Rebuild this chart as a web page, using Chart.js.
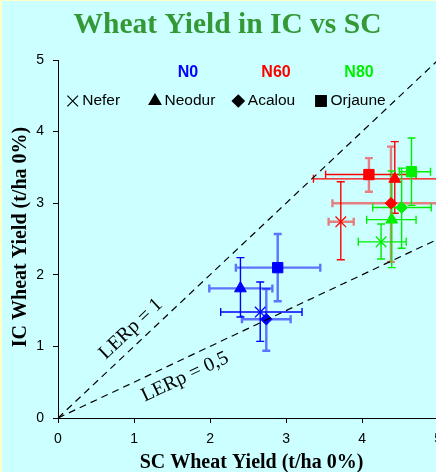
<!DOCTYPE html>
<html>
<head>
<meta charset="utf-8">
<script src="https://cdn.jsdelivr.net/npm/chart.js@4.4.1/dist/chart.umd.min.js"></script>
<style>
  html, body { margin: 0; padding: 0; overflow: hidden; background: #ffffcc; }
  canvas { display: block; }
</style>
</head>
<body>
<canvas id="chart" width="450" height="472"></canvas>
<script>
const varieties = ['Nefer', 'Neodur', 'Acalou', 'Orjaune'];
const levels = ['N0', 'N60', 'N80'];
const axisTicks = [0, 1, 2, 3, 4, 5];

// SC yield (x) and IC yield (y), one value per variety
const scN0 = [2.66, 2.40, 2.74, 2.89];
const icN0 = [1.48, 1.81, 1.38, 2.10];
const scN60 = [3.72, 4.43, 4.38, 4.09];
const icN60 = [2.74, 3.34, 3.00, 3.40];
const scN80 = [4.25, 4.39, 4.52, 4.65];
const icN80 = [2.46, 2.77, 2.94, 3.44];

// error bar ends [low, high]
const scErrN0 = [[2.14, 3.21], [1.99, 2.82], [2.42, 3.06], [2.34, 3.45]];
const icErrN0 = [[1.07, 1.90], [1.41, 2.24], [0.94, 1.80], [1.63, 2.57]];
const scErrN60 = [[3.56, 3.89], [3.36, 5.40], [3.61, 5.40], [3.52, 4.71]];
const icErrN60 = [[2.21, 3.30], [2.86, 3.86], [2.18, 3.79], [3.16, 3.63]];
const scErrN80 = [[3.95, 4.58], [4.06, 4.71], [4.14, 4.91], [4.49, 4.90]];
const icErrN80 = [[2.22, 2.71], [2.10, 3.45], [2.37, 3.49], [2.97, 3.91]];

// LERp reference lines
const lerX = [0, 5];
const ler1Y = [0, 5];
const ler05Y = [0, 2.5];

const shapes = ['crossRot', 'triangle', 'rectRot', 'rect'];
const sizes = [7.5, 6.8, 5.8, 7.3];

function pts(xs, ys){
  return xs.map((x, i) => ({ x, y: ys[i] }));
}

function group(label, color, xs, ys, xErr, yErr, softH, softV){
  return {
    label,
    data: pts(xs, ys),
    xErr, yErr, softH, softV,
    backgroundColor: color,
    borderColor: color,
    pointStyle: shapes,
    pointRadius: sizes,
    pointBorderWidth: [1.3, 1, 1, 1],
    showLine: false
  };
}

function lerLine(ys){
  return {
    data: pts(lerX, ys),
    showLine: true,
    borderColor: '#000',
    borderWidth: 1.2,
    borderDash: [7, 5],
    pointRadius: 0,
    isLine: true
  };
}

const bgPlugin = {
  id: 'bg',
  beforeDraw(chart){
    const ctx = chart.ctx;
    ctx.save();
    ctx.fillStyle = '#ffffcc';
    ctx.fillRect(0, 0, chart.width, chart.height);
    ctx.fillStyle = '#ccffff';
    ctx.fillRect(2, 1, chart.width, chart.height);
    ctx.restore();
  }
};

function fade(color){
  const m = { '#0000ff': 'rgba(0,0,255,0.55)', '#ff0000': 'rgba(255,0,0,0.5)', '#00ee00': 'rgba(0,238,0,0.6)' };
  return m[color] || color;
}

const errorPlugin = {
  id: 'errbars',
  beforeDatasetsDraw(chart){
    const { ctx, chartArea: a, scales: { x, y } } = chart;
    ctx.save();
    ctx.beginPath();
    ctx.rect(a.left, a.top, a.right - a.left, a.bottom - a.top);
    ctx.clip();
    chart.data.datasets.forEach(ds => {
      if(ds.isLine) return;
      ds.data.forEach((p, i) => {
        const px = x.getPixelForValue(p.x);
        const py = y.getPixelForValue(p.y);
        const [xl, xh] = ds.xErr[i];
        const [yl, yh] = ds.yErr[i];
        // horizontal bar
        ctx.strokeStyle = ds.softH[i] ? fade(ds.borderColor) : ds.borderColor;
        ctx.lineWidth = ds.softH[i] ? 2.4 : 1.4;
        const x1 = x.getPixelForValue(xl), x2 = x.getPixelForValue(xh);
        ctx.beginPath();
        ctx.moveTo(x1, py); ctx.lineTo(x2, py);
        ctx.moveTo(x1, py - 4); ctx.lineTo(x1, py + 4);
        ctx.moveTo(x2, py - 4); ctx.lineTo(x2, py + 4);
        ctx.stroke();
        // vertical bar
        ctx.strokeStyle = ds.softV[i] ? fade(ds.borderColor) : ds.borderColor;
        ctx.lineWidth = ds.softV[i] ? 2.4 : 1.4;
        const y1 = y.getPixelForValue(yl), y2 = y.getPixelForValue(yh);
        ctx.beginPath();
        ctx.moveTo(px, y1); ctx.lineTo(px, y2);
        ctx.moveTo(px - 4, y1); ctx.lineTo(px + 4, y1);
        ctx.moveTo(px - 4, y2); ctx.lineTo(px + 4, y2);
        ctx.stroke();
      });
    });
    ctx.restore();
  }
};

const textPlugin = {
  id: 'texts',
  afterDraw(chart){
    const { ctx, scales: { x, y } } = chart;
    ctx.save();

    // title
    ctx.fillStyle = '#349934';
    ctx.font = 'bold 29.5px "Liberation Serif", "Times New Roman", serif';
    ctx.textAlign = 'center';
    ctx.textBaseline = 'alphabetic';
    ctx.fillText('Wheat Yield in IC vs SC', 227.5, 32.5);

    // axis titles
    ctx.fillStyle = '#000';
    ctx.font = 'bold 20px "Liberation Serif", "Times New Roman", serif';
    ctx.fillText('SC Wheat Yield (t/ha 0%)', 251.5, 468);
    ctx.save();
    ctx.translate(26, 237);
    ctx.rotate(-Math.PI / 2);
    ctx.fillText('IC Wheat Yield (t/ha 0%)', 0, 0);
    ctx.restore();

    // LERp labels along the dashed lines
    ctx.font = '20px "Liberation Serif", "Times New Roman", serif';
    ctx.textBaseline = 'middle';
    const x0 = x.getPixelForValue(0), y0 = y.getPixelForValue(0);
    const a1 = Math.atan2(y.getPixelForValue(ler1Y[1]) - y0, x.getPixelForValue(lerX[1]) - x0);
    const a2 = Math.atan2(y.getPixelForValue(ler05Y[1]) - y0, x.getPixelForValue(lerX[1]) - x0);
    ctx.save();
    ctx.translate(131, 329);
    ctx.rotate(a1);
    ctx.fillText('LERp = 1', 0, 0);
    ctx.restore();
    ctx.save();
    ctx.translate(185, 377);
    ctx.rotate(a2);
    ctx.fillText('LERp = 0,5', 0, 0);
    ctx.restore();

    // legend: nitrogen levels
    ctx.font = 'bold 16px "Liberation Sans", Arial, sans-serif';
    const levelColors = ['#0000ff', '#ff0000', '#00ee00'];
    const levelX = [188, 276, 359];
    levels.forEach((l, i) => {
      ctx.fillStyle = levelColors[i];
      ctx.fillText(l, levelX[i], 73);
    });

    // legend: varieties
    ctx.font = '15.5px "Liberation Sans", Arial, sans-serif';
    ctx.textAlign = 'left';
    const markX = [72.7, 155, 238.3, 321];
    const legendSizes = [7.5, 6.8, 6, 7.5];
    varieties.forEach((v, i) => {
      ctx.fillStyle = '#000';
      ctx.strokeStyle = '#000';
      ctx.lineWidth = 1.2;
      Chart.helpers.drawPoint(ctx, { pointStyle: shapes[i], radius: legendSizes[i], rotation: 0, borderWidth: 1.2 }, markX[i], 101);
      ctx.fillStyle = '#000';
      ctx.fillText(v, markX[i] + 9.5, 101);
    });

    ctx.restore();
  }
};

const tickFont = { family: '"Liberation Sans", Arial, sans-serif', size: 14 };

new Chart(document.getElementById('chart'), {
  type: 'scatter',
  data: {
    datasets: [
      lerLine(ler1Y),
      lerLine(ler05Y),
      group('N0', '#0000ff', scN0, icN0, scErrN0, icErrN0,
        [false, true, true, true], [false, false, true, true]),
      group('N60', '#ff0000', scN60, icN60, scErrN60, icErrN60,
        [true, false, true, false], [false, false, true, true]),
      group('N80', '#00ee00', scN80, icN80, scErrN80, icErrN80,
        [false, false, false, false], [false, false, false, false])
    ]
  },
  options: {
    responsive: false,
    devicePixelRatio: 1,
    animation: false,
    layout: { padding: { top: 60, right: 4, left: 0, bottom: 0 } },
    plugins: {
      legend: { display: false },
      tooltip: { enabled: false }
    },
    scales: {
      x: {
        type: 'linear',
        min: axisTicks[0],
        max: axisTicks[axisTicks.length - 1],
        afterBuildTicks: s => { s.ticks = axisTicks.map(v => ({ value: v })); },
        ticks: { color: '#000', font: tickFont, padding: 8 },
        grid: { drawOnChartArea: false, drawTicks: true, tickLength: 5, color: '#000' },
        border: { color: '#000', width: 1 },
        afterFit: s => { s.height = 54; }
      },
      y: {
        type: 'linear',
        min: axisTicks[0],
        max: axisTicks[axisTicks.length - 1],
        afterBuildTicks: s => { s.ticks = axisTicks.map(v => ({ value: v })); },
        ticks: { color: '#000', font: tickFont, padding: 9 },
        grid: { drawOnChartArea: false, drawTicks: true, tickLength: 5, color: '#000' },
        border: { color: '#000', width: 1 },
        afterFit: s => { s.width = 58; }
      }
    }
  },
  plugins: [bgPlugin, errorPlugin, textPlugin]
});
</script>
</body>
</html>
